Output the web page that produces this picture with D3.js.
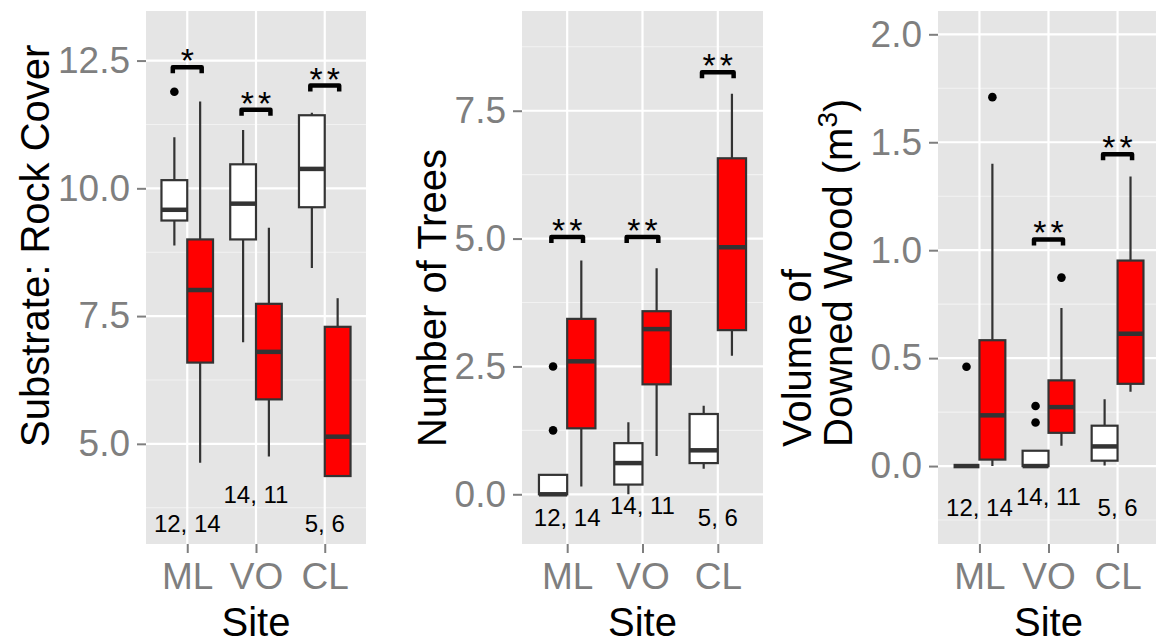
<!DOCTYPE html>
<html>
<head>
<meta charset="utf-8">
<script src="https://cdn.jsdelivr.net/npm/d3@7"></script>
<style>
  html, body { margin: 0; padding: 0; background: #ffffff; }
  svg { display: block; font-family: "Liberation Sans", Arial, Helvetica, sans-serif; }
</style>
</head>
<body>
<svg id="chart" width="1156" height="643"></svg>
<script>
// Sites on the x axis and the two groups compared at every site
const sites = ["ML", "VO", "CL"];
const groups = ["g1", "g2"];

// Substrate: rock cover — box statistics (lower whisker, Q1, median, Q3, upper whisker)
const rockBoxes = [
  { site: "ML", group: "g1", lo: 8.88, q1: 9.37, med: 9.58, q3: 10.16, hi: 11.00 },
  { site: "ML", group: "g2", lo: 4.63, q1: 6.59, med: 8.01, q3: 9.00, hi: 11.70 },
  { site: "VO", group: "g1", lo: 6.99, q1: 9.00, med: 9.70, q3: 10.47, hi: 11.14 },
  { site: "VO", group: "g2", lo: 4.75, q1: 5.87, med: 6.80, q3: 7.74, hi: 9.23 },
  { site: "CL", group: "g1", lo: 8.44, q1: 9.63, med: 10.38, q3: 11.43, hi: 11.48 },
  { site: "CL", group: "g2", lo: 4.37, q1: 4.37, med: 5.14, q3: 7.29, hi: 7.85 }
];
const rockOutliers = [ { site: "ML", group: "g1", value: 11.89 } ];
const rockSignif = [
  { site: "ML", value: 12.37, label: "*" },
  { site: "VO", value: 11.54, label: "**" },
  { site: "CL", value: 12.01, label: "**" }
];
const rockCounts = [
  { site: "ML", value: 3.45, label: "12, 14" },
  { site: "VO", value: 4.01, label: "14, 11" },
  { site: "CL", value: 3.45, label: "5, 6" }
];
const rockTicks = [5, 7.5, 10, 12.5];
const rockMinor = [3.75, 6.25, 8.75, 11.25];

// Number of trees
const treeBoxes = [
  { site: "ML", group: "g1", lo: 0.00, q1: 0.00, med: 0.00, q3: 0.38, hi: 0.38 },
  { site: "ML", group: "g2", lo: 0.15, q1: 1.29, med: 2.60, q3: 3.43, hi: 4.57 },
  { site: "VO", group: "g1", lo: 0.00, q1: 0.19, med: 0.61, q3: 1.00, hi: 1.41 },
  { site: "VO", group: "g2", lo: 0.75, q1: 2.15, med: 3.23, q3: 3.58, hi: 4.42 },
  { site: "CL", group: "g1", lo: 0.50, q1: 0.61, med: 0.86, q3: 1.57, hi: 1.73 },
  { site: "CL", group: "g2", lo: 2.71, q1: 3.21, med: 4.83, q3: 6.57, hi: 7.83 }
];
const treeOutliers = [
  { site: "ML", group: "g1", value: 2.5 },
  { site: "ML", group: "g1", value: 1.25 }
];
const treeSignif = [
  { site: "ML", value: 5.03, label: "**" },
  { site: "VO", value: 5.03, label: "**" },
  { site: "CL", value: 8.25, label: "**" }
];
const treeCounts = [
  { site: "ML", value: -0.46, label: "12, 14" },
  { site: "VO", value: -0.21, label: "14, 11" },
  { site: "CL", value: -0.46, label: "5, 6" }
];
const treeTicks = [0, 2.5, 5, 7.5];
const treeMinor = [1.25, 3.75, 6.25, 8.75];

// Volume of downed wood (m^3)
const woodBoxes = [
  { site: "ML", group: "g1", lo: 0.00, q1: 0.00, med: 0.00, q3: 0.00, hi: 0.00 },
  { site: "ML", group: "g2", lo: 0.00, q1: 0.03, med: 0.235, q3: 0.583, hi: 1.40 },
  { site: "VO", group: "g1", lo: 0.00, q1: 0.00, med: 0.00, q3: 0.071, hi: 0.071 },
  { site: "VO", group: "g2", lo: 0.094, q1: 0.154, med: 0.273, q3: 0.397, hi: 0.732 },
  { site: "CL", group: "g1", lo: 0.003, q1: 0.025, med: 0.091, q3: 0.187, hi: 0.31 },
  { site: "CL", group: "g2", lo: 0.344, q1: 0.381, med: 0.613, q3: 0.952, hi: 1.341 }
];
const woodOutliers = [
  { site: "ML", group: "g1", value: 0.46 },
  { site: "ML", group: "g2", value: 1.709 },
  { site: "VO", group: "g1", value: 0.278 },
  { site: "VO", group: "g1", value: 0.202 },
  { site: "VO", group: "g2", value: 0.873 }
];
const woodSignif = [
  { site: "VO", value: 1.05, label: "**" },
  { site: "CL", value: 1.445, label: "**" }
];
const woodCounts = [
  { site: "ML", value: -0.19, label: "12, 14" },
  { site: "VO", value: -0.14, label: "14, 11" },
  { site: "CL", value: -0.19, label: "5, 6" }
];
const woodTicks = [0, 0.5, 1, 1.5, 2];
const woodMinor = [-0.25, 0.25, 0.75, 1.25, 1.75];

// ---- drawing ----
const svg = d3.select("#chart");
const groupFill = d3.scaleOrdinal().domain(groups).range(["#ffffff", "#ff0000"]);
const fmt = d3.format(".1f");
const FONT_TICK = 37, FONT_TITLE = 40, FONT_COUNT = 24, FONT_STAR = 34, STAR_GAP = 4;

const panels = [
  { boxes: rockBoxes, outliers: rockOutliers, signif: rockSignif, counts: rockCounts,
    ticks: rockTicks, minor: rockMinor, domain: [3.04, 13.47],
    left: 146, right: 366, titleX: 35, title: ["Substrate: Rock Cover"] },
  { boxes: treeBoxes, outliers: treeOutliers, signif: treeSignif, counts: treeCounts,
    ticks: treeTicks, minor: treeMinor, domain: [-0.972, 9.45],
    left: 522, right: 763, titleX: 432, title: ["Number of Trees"] },
  { boxes: woodBoxes, outliers: woodOutliers, signif: woodSignif, counts: woodCounts,
    ticks: woodTicks, minor: woodMinor, domain: [-0.361, 2.108],
    left: 938, right: 1159, titleX: 797, title: ["Volume of", "Downed Wood (m"], sup: "3" }
];
const TOP = 11, BOTTOM = 544;

panels.forEach(p => {
  const g = svg.append("g");
  const x = d3.scalePoint().domain(sites).range([p.left, p.right]).padding(0.6);
  const step = x.step();
  const y = d3.scaleLinear().domain(p.domain).range([BOTTOM, TOP]);
  const boxW = 0.375 * step;
  const dodge = d3.scaleOrdinal().domain(groups).range([-boxW / 2, boxW / 2]);

  // panel background and grid
  g.append("rect").attr("x", p.left).attr("y", TOP)
    .attr("width", p.right - p.left).attr("height", BOTTOM - TOP).attr("fill", "#e5e5e5");
  g.selectAll(".minor").data(p.minor).join("line")
    .attr("x1", p.left).attr("x2", p.right)
    .attr("y1", d => y(d)).attr("y2", d => y(d))
    .attr("stroke", "#f2f2f2").attr("stroke-width", 1.1);
  g.selectAll(".majorY").data(p.ticks).join("line")
    .attr("x1", p.left).attr("x2", p.right)
    .attr("y1", d => y(d)).attr("y2", d => y(d))
    .attr("stroke", "#ffffff").attr("stroke-width", 2.2);
  g.selectAll(".majorX").data(sites).join("line")
    .attr("x1", d => x(d)).attr("x2", d => x(d))
    .attr("y1", TOP).attr("y2", BOTTOM)
    .attr("stroke", "#ffffff").attr("stroke-width", 2.2);

  // axes
  const yAxis = g.append("g").attr("transform", `translate(${p.left},0)`)
    .call(d3.axisLeft(y).tickValues(p.ticks).tickFormat(fmt).tickSize(9).tickPadding(7));
  const xAxis = g.append("g").attr("transform", `translate(0,${BOTTOM})`)
    .call(d3.axisBottom(x).tickSize(9).tickPadding(10));
  [yAxis, xAxis].forEach(a => {
    a.select(".domain").remove();
    a.selectAll(".tick line").attr("stroke", "#7f7f7f").attr("stroke-width", 2);
    a.selectAll(".tick text").attr("fill", "#7f7f7f")
      .attr("font-size", FONT_TICK).attr("font-family", "Liberation Sans, Arial, sans-serif");
  });

  // whiskers
  const bx = d => x(d.site) + dodge(d.group);
  g.selectAll(".whisker").data(p.boxes).join("path")
    .attr("d", d => `M${bx(d)},${y(d.hi)}V${y(d.q3)}M${bx(d)},${y(d.q1)}V${y(d.lo)}`)
    .attr("stroke", "#333333").attr("stroke-width", 2.2).attr("fill", "none");
  // boxes
  g.selectAll(".box").data(p.boxes).join("rect")
    .attr("x", d => bx(d) - boxW / 2).attr("width", boxW)
    .attr("y", d => y(d.q3)).attr("height", d => Math.max(0, y(d.q1) - y(d.q3)))
    .attr("fill", d => groupFill(d.group))
    .attr("stroke", "#333333").attr("stroke-width", 2.2);
  // medians
  g.selectAll(".median").data(p.boxes).join("line")
    .attr("x1", d => bx(d) - boxW / 2).attr("x2", d => bx(d) + boxW / 2)
    .attr("y1", d => y(d.med)).attr("y2", d => y(d.med))
    .attr("stroke", "#333333").attr("stroke-width", 4.5);
  // outliers
  g.selectAll(".outlier").data(p.outliers).join("circle")
    .attr("cx", d => bx(d)).attr("cy", d => y(d.value)).attr("r", 4.3)
    .attr("fill", "#000000");

  // significance brackets
  const half = 0.21 * step;
  g.selectAll(".bracket").data(p.signif).join("path")
    .attr("d", d => `M${x(d.site) - half},${y(d.value) + 6}V${y(d.value)}H${x(d.site) + half}V${y(d.value) + 6}`)
    .attr("fill", "none").attr("stroke", "#000000").attr("stroke-width", 4.5)
    .attr("stroke-linejoin", "round");
  g.selectAll(".star").data(p.signif).join("text")
    .attr("x", d => x(d.site) + STAR_GAP / 2).attr("y", d => y(d.value) + 5)
    .attr("text-anchor", "middle").attr("font-size", FONT_STAR).attr("fill", "#000")
    .attr("letter-spacing", STAR_GAP)
    .text(d => d.label);

  // sample sizes
  g.selectAll(".count").data(p.counts).join("text")
    .attr("x", d => x(d.site)).attr("y", d => y(d.value))
    .attr("dy", "0.36em").attr("text-anchor", "middle")
    .attr("font-size", FONT_COUNT).attr("fill", "#000")
    .text(d => d.label);

  // axis titles
  g.append("text").attr("x", (p.left + p.right) / 2).attr("y", 636)
    .attr("text-anchor", "middle").attr("font-size", FONT_TITLE).attr("fill", "#000")
    .text("Site");
  p.title.forEach((line, i) => {
    const t = g.append("text")
      .attr("transform", `translate(${p.titleX + i * 41},447) rotate(-90)`)
      .attr("dy", "0.36em").attr("text-anchor", "start")
      .attr("font-size", FONT_TITLE).attr("fill", "#000")
      .text(line);
    if (p.sup && i === p.title.length - 1) {
      t.append("tspan").attr("font-size", FONT_TITLE * 0.7).attr("dy", "-0.55em").text(p.sup);
      t.append("tspan").attr("dy", "0.39em").text(")");
    }
  });
});
</script>
</body>
</html>
